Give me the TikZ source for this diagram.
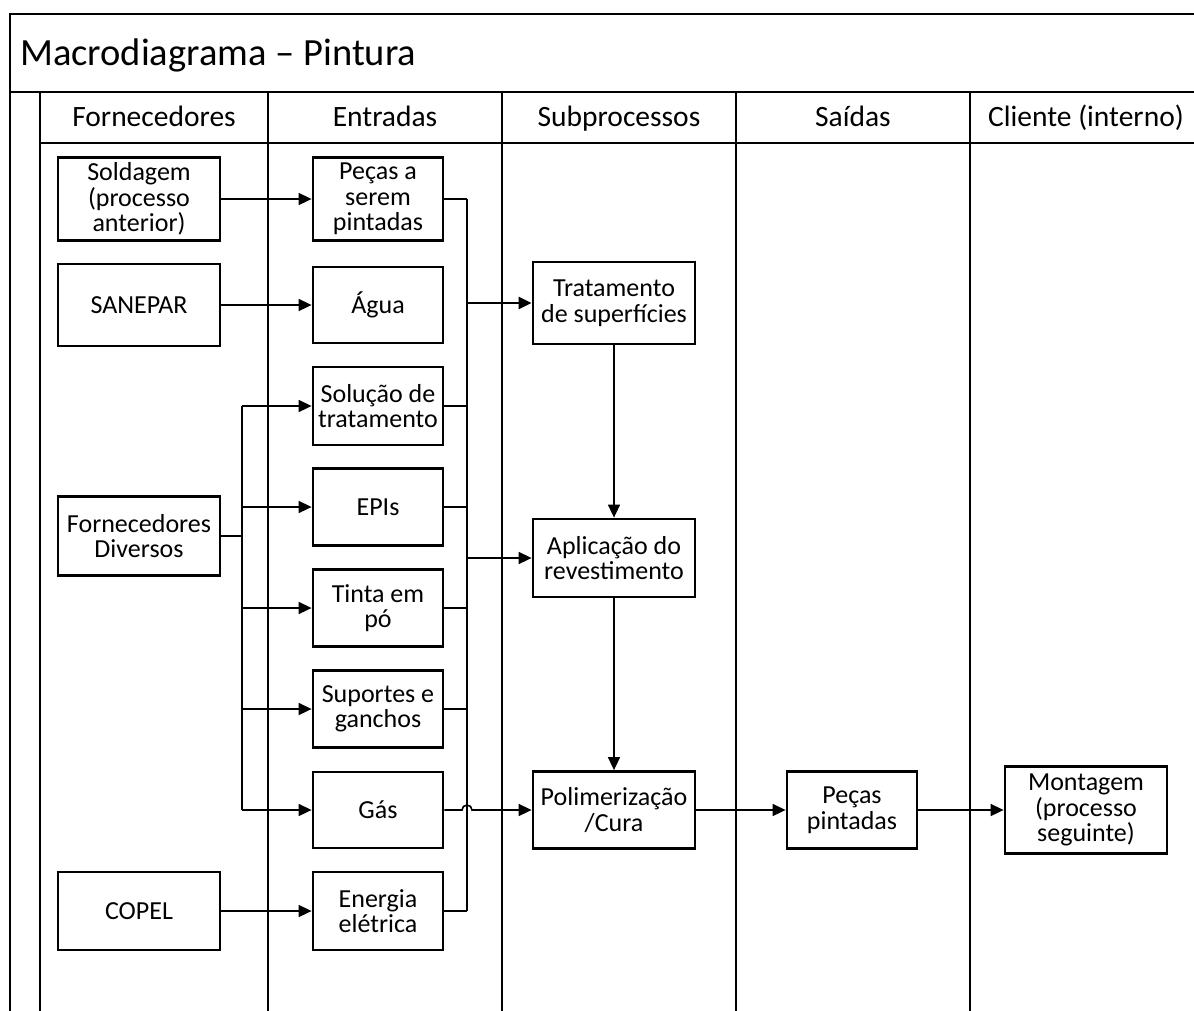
\documentclass[tikz,border=0pt]{standalone}
\usepackage{fontspec}
\setmainfont{Carlito}
\usetikzlibrary{arrows.meta}

\begin{document}
\begin{tikzpicture}[x=1pt,y=-1pt,
  frame/.style={line width=2.8pt, line cap=rect},
  box/.style={draw, line width=2.8pt, align=center, inner sep=0pt,
    font=\fontsize{26}{25.5}\selectfont},
  wbox/.style={box, minimum width=162pt},
  nbox/.style={box, minimum width=130pt},
  head/.style={anchor=base, font=\fontsize{29.5}{30}\selectfont},
  conn/.style={line width=1.6pt},
  arr/.style={conn, -{Triangle[length=13pt,width=12pt]}}
]
\useasboundingbox (0,0) rectangle (1194,1010);
\clip (0,0) rectangle (1194,1010);

% swimlane frame
\draw[frame] (1210,14) -- (10,14) -- (10,1020);
\draw[frame] (10,92) -- (1210,92);
\draw[frame] (40,92) -- (40,1020);
\draw[frame] (40,143) -- (1210,143);
\foreach \cx in {268,502,736,970} \draw[frame] (\cx,92) -- (\cx,1020);

% titles
\node[anchor=base west, inner sep=0pt, font=\fontsize{38.5}{40}\selectfont] (title) at (20,65) {Macrodiagrama – Pintura};
\node[head] (hforn) at (154,126) {Fornecedores};
\node[head] (hent)  at (385,126) {Entradas};
\node[head] (hsub)  at (619,126) {Subprocessos};
\node[head] (hsai)  at (853,126) {Saídas};
\node[head] (hcli)  at (1086,126) {Cliente (interno)};

% suppliers
\node[wbox, minimum height=83pt] (sold)  at (139,199) {Soldagem\\(processo\\anterior)};
\node[wbox, minimum height=82pt] (sane)  at (139,305) {SANEPAR};
\node[wbox, minimum height=79pt] (fdiv)  at (139,536) {Fornecedores\\Diversos};
\node[wbox, minimum height=78pt] (copel) at (139,911) {COPEL};

% inputs
\node[nbox, minimum height=83pt] (pecas) at (378,199) {Peças a\\serem\\pintadas};
\node[nbox, minimum height=76pt] (agua)  at (378,305) {Água};
\node[nbox, minimum height=78pt] (sol)   at (378,406) {Solução de\\tratamento};
\node[nbox, minimum height=77pt] (epis)  at (378,507) {EPIs};
\node[nbox, minimum height=77pt] (tinta) at (378,608) {Tinta em\\pó};
\node[nbox, minimum height=77pt] (sup)   at (378,709) {Suportes e\\ganchos};
\node[nbox, minimum height=76pt] (gas)   at (378,810) {Gás};
\node[nbox, minimum height=78pt] (ener)  at (378,911) {Energia\\elétrica};

% subprocesses, outputs, client
\node[wbox, minimum height=82pt] (trat)  at (614,303) {Tratamento\\de superfícies};
\node[wbox, minimum height=78pt] (apl)   at (614,558) {Aplicação do\\revestimento};
\node[wbox, minimum height=77pt] (poli)  at (614,810) {Polimerização\\/Cura};
\node[nbox, minimum height=77pt] (ppint) at (852,810) {Peças\\pintadas};
\node[wbox, minimum height=87pt] (mont)  at (1086,810) {Montagem\\(processo\\seguinte)};

% bus lines
\coordinate (lbus) at (242,0);
\coordinate (rbus) at (467,0);

% suppliers to inputs
\draw[arr] (sold.east) -- (pecas.west);
\draw[arr] (sane.east) -- (agua.west);
\draw[arr] (copel.east) -- (ener.west);
\draw[conn] (fdiv.east) -- (lbus |- fdiv.east);
\draw[conn] (lbus |- sol.west) -- (lbus |- gas.west);
\foreach \n in {sol,epis,tinta,sup,gas}
  \draw[arr] (lbus |- \n.west) -- (\n.west);

% inputs to collector
\draw[conn] (rbus |- pecas.east) -- (rbus |- ener.east);
\foreach \n in {pecas,sol,epis,tinta,sup,ener}
  \draw[conn] (\n.east) -- (rbus |- \n.east);

% collector to subprocesses
\draw[arr, line width=2.4pt] (rbus |- trat.west) -- (trat.west);
\draw[arr] (rbus |- apl.west) -- (apl.west);
\draw[arr] (gas.east) -- ([xshift=-5pt]rbus |- gas.east)
  arc[start angle=180, end angle=0, radius=5pt] -- (poli.west);

% main flow
\draw[arr] (trat.south) -- (apl.north);
\draw[arr] (apl.south) -- (poli.north);
\draw[arr] (poli.east) -- (ppint.west);
\draw[arr] (ppint.east) -- (mont.west);
\end{tikzpicture}
\end{document}
